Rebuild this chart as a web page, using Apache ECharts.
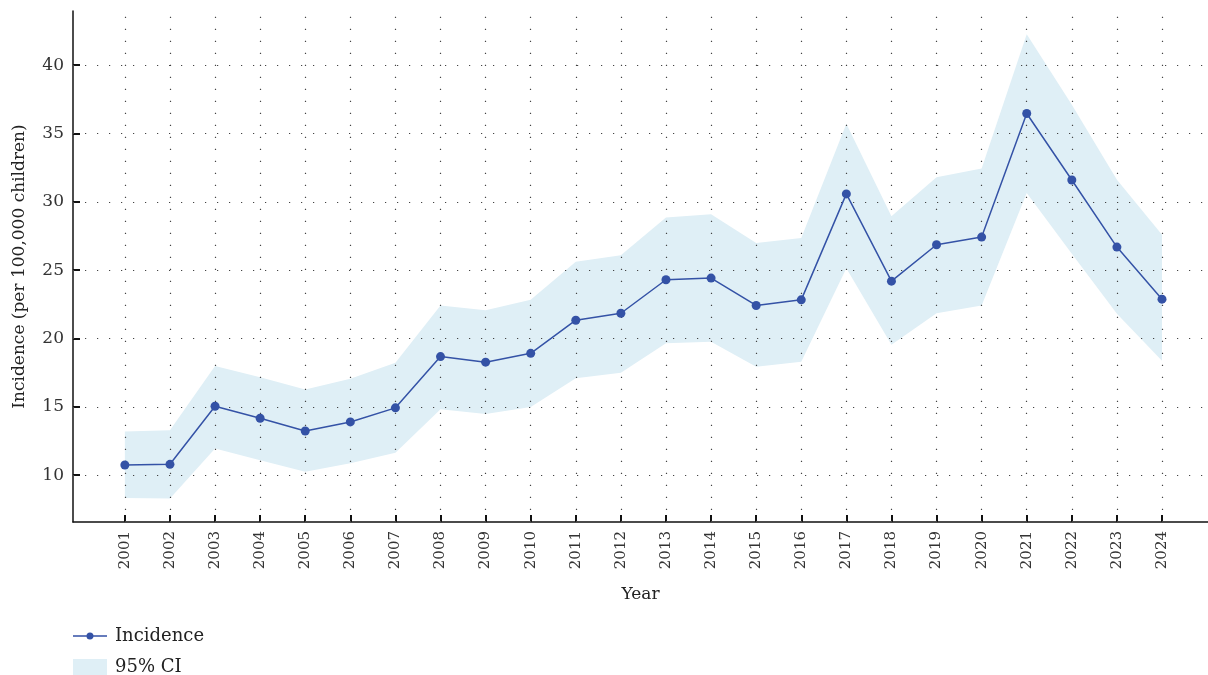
<!DOCTYPE html>
<html>
<head>
<meta charset="utf-8">
<script src="https://cdn.jsdelivr.net/npm/echarts@6/dist/echarts.min.js"></script>
<style>
  html, body { margin: 0; padding: 0; background: #fff; }
  #chart { width: 1208px; height: 675px; }
</style>
</head>
<body>
<div id="chart"></div>
<script>
// data
const years = [2001, 2002, 2003, 2004, 2005, 2006, 2007, 2008, 2009, 2010, 2011, 2012,
  2013, 2014, 2015, 2016, 2017, 2018, 2019, 2020, 2021, 2022, 2023, 2024]
const incidence = [10.75, 10.8, 15.05, 14.17, 13.24, 13.9, 14.93, 18.68, 18.27, 18.92, 21.34, 21.85,
  24.3, 24.42, 22.42, 22.83, 30.58, 24.2, 26.86, 27.42, 36.46, 31.6, 26.69, 22.88]
const ciLower = [8.34, 8.3, 11.95, 11.1, 10.25, 10.87, 11.65, 14.83, 14.48, 15.0, 17.1, 17.5,
  19.65, 19.77, 17.94, 18.31, 25.15, 19.55, 21.85, 22.42, 30.65, 26.2, 21.82, 18.38]
const ciUpper = [13.2, 13.3, 17.99, 17.16, 16.28, 17.06, 18.23, 22.42, 22.07, 22.83, 25.62, 26.1,
  28.86, 29.1, 26.98, 27.35, 35.72, 28.95, 31.8, 32.43, 42.26, 37.1, 31.62, 27.6]
const yTicks = [10, 15, 20, 25, 30, 35, 40]

const chart = echarts.init(document.getElementById('chart'))
const serif = '"DejaVu Serif", "Liberation Serif", serif'
const blue = '#3452a6'
const bandColor = '#dfeff6'

// band polygon: upper edge left->right, lower edge right->left
function renderBand (params, api) {
  if (params.dataIndex !== 0) return null
  const pts = []
  for (let i = 0; i < years.length; i++) pts.push(api.coord([years[i], ciUpper[i]]))
  for (let i = years.length - 1; i >= 0; i--) pts.push(api.coord([years[i], ciLower[i]]))
  return {
    type: 'polygon',
    shape: { points: pts },
    style: { fill: bandColor }
  }
}

// dotted grid, one line per tick
const gridLines = years.map(y => ({ xAxis: y })).concat(yTicks.map(v => ({ yAxis: v })))

let option = {
  animation: false,
  backgroundColor: '#fff',
  grid: { left: 73, right: 0, top: 11, bottom: 153, containLabel: false },
  legend: {
    orient: 'vertical',
    left: 73,
    top: 627,
    height: 80,
    padding: 0,
    itemWidth: 34,
    itemHeight: 16,
    itemGap: 13,
    textStyle: { fontFamily: serif, fontSize: 18, color: '#222', lineHeight: 16, padding: [0, 0, 0, 3] },
    data: [
      { name: 'Incidence', icon: 'path://M0,2.8h34v1.4h-34z M17,0a3.5,3.5 0 1,1 -0.01,0z' },
      { name: '95% CI', icon: 'rect' }
    ]
  },
  xAxis: {
    type: 'value',
    min: 1999.85,
    max: 2025.02,
    name: 'Year',
    nameLocation: 'middle',
    nameGap: 64,
    nameTextStyle: { fontFamily: serif, fontSize: 17, color: '#222' },
    axisLine: { show: true, lineStyle: { color: '#111', width: 1.5 } },
    axisTick: { show: true, inside: true, length: 7, lineStyle: { color: '#111', width: 2 }, customValues: years },
    axisLabel: {
      rotate: 90, margin: 9, fontFamily: serif, fontSize: 15, color: '#333',
      customValues: years, formatter: v => String(v)
    },
    splitLine: { show: false }
  },
  yAxis: {
    type: 'value',
    min: 6.58,
    max: 43.96,
    name: 'Incidence (per 100,000 children)',
    nameLocation: 'middle',
    nameGap: 45,
    nameTextStyle: { fontFamily: serif, fontSize: 17, color: '#222' },
    axisLine: { show: true, lineStyle: { color: '#111', width: 1.5 } },
    axisTick: { show: true, inside: true, length: 7, lineStyle: { color: '#111', width: 2 }, customValues: yTicks },
    axisLabel: { margin: 9, fontFamily: serif, fontSize: 17, color: '#333', customValues: yTicks },
    splitLine: { show: false }
  },
  series: [
    {
      name: '95% CI',
      type: 'custom',
      z: 1,
      silent: true,
      itemStyle: { color: bandColor },
      renderItem: renderBand,
      data: years.map((y, i) => [y, ciLower[i], ciUpper[i]])
    },
    {
      name: 'grid',
      type: 'line',
      z: 3,
      silent: true,
      data: [],
      markLine: {
        silent: true,
        symbol: 'none',
        label: { show: false },
        lineStyle: { color: '#444', width: 1.2, type: [1.2, 10.8] },
        emphasis: { disabled: true },
        data: gridLines
      }
    },
    {
      name: 'Incidence',
      type: 'line',
      symbol: 'circle',
      symbolSize: 9,
      z: 5,
      itemStyle: { color: blue },
      lineStyle: { color: blue, width: 1.5 },
      data: years.map((y, i) => [y, incidence[i]])
    }
  ]
}
chart.clear()
chart.setOption(option)
window.addEventListener('resize', function () {
  chart.resize()
})
</script>
</body>
</html>
